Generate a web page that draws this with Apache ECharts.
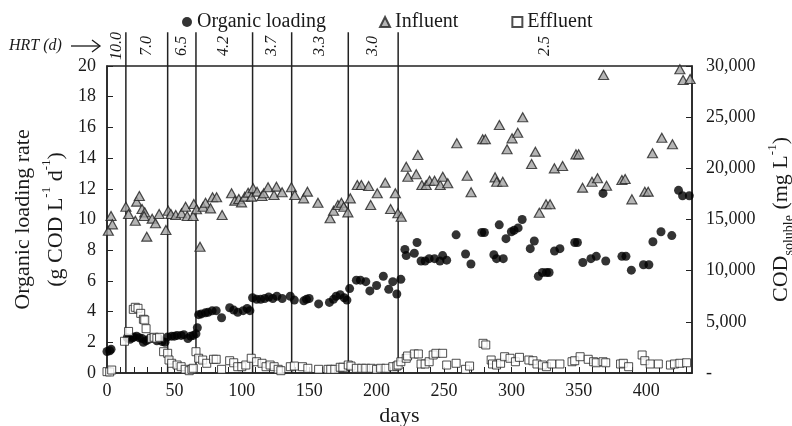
<!DOCTYPE html>
<html>
<head>
<meta charset="utf-8">
<title>Organic loading rate and soluble COD</title>
<script src="https://cdn.jsdelivr.net/npm/echarts@6/dist/echarts.min.js"></script>
<style>
  html, body { margin: 0; padding: 0; background: #fff; }
  #chart { width: 792px; height: 426px; }
</style>
</head>
<body>
<div id="chart"></div>
<script>
// axis ticks
const dayTicks = [0, 50, 100, 150, 200, 250, 300, 350, 400]
const dayMax = 434
const olrTicks = [0, 2, 4, 6, 8, 10, 12, 14, 16, 18, 20]
const codTicks = [0, 5000, 10000, 15000, 20000, 25000, 30000]

// HRT periods: boundaries in days and hrt (d) of each period
const hrtBounds = [0, 14, 45, 66, 108, 137, 179, 216, dayMax]
const hrtLabels = ['10.0', '7.0', '6.5', '4.2', '3.7', '3.3', '3.0', '2.5']

// organic loading rate [day, g COD L-1 d-1]
const organicLoading = [
  [0, 1.4], [2, 1.45], [3, 1.55],
  [15, 2.3], [17, 2.2], [19, 2.3], [20, 2.35], [22, 2.4], [24, 2.3], [26, 2.25], [27, 2.0],
  [29, 2.1], [31, 2.2], [33, 2.3], [35, 2.25], [37, 2.1], [39, 2.2], [41, 2.05], [43, 2.0],
  [45, 2.35], [48, 2.4], [50, 2.4], [52, 2.45], [55, 2.45], [57, 2.5], [60, 2.25], [62, 2.4],
  [64, 2.45], [66, 2.55],
  [67, 2.95], [68, 3.8], [70, 3.85], [73, 3.92], [75, 3.95], [78, 4.05], [81, 4.06], [85, 3.6],
  [91, 4.25], [94, 4.1], [97, 3.95], [101, 4.06], [104, 4.2], [106, 4.06],
  [108, 4.9], [111, 4.8], [114, 4.8], [117, 4.85], [120, 4.95], [123, 4.85], [126, 5.0], [130, 4.85],
  [136, 5.0], [139, 4.75], [146, 4.7], [148, 4.8], [150, 4.85], [157, 4.5], [165, 4.6], [168, 4.8],
  [170, 5.0], [173, 5.1], [176, 4.9], [178, 4.75],
  [180, 5.5], [185, 6.05], [188, 6.05], [192, 5.95], [195, 5.35], [200, 5.7], [205, 6.3], [209, 5.45],
  [212, 5.95], [215, 5.15],
  [218, 6.1], [221, 8.05], [222, 7.65], [228, 7.8], [230, 8.5], [233, 7.3], [236, 7.3], [239, 7.45],
  [243, 7.45], [247, 7.3], [249, 7.65], [252, 7.35], [259, 9.0], [266, 7.75], [270, 7.1], [278, 9.15],
  [280, 9.15], [287, 7.7], [289, 7.45], [291, 9.65], [294, 7.45], [296, 8.75], [300, 9.2], [302, 9.3],
  [305, 9.45], [308, 10.0], [314, 8.1], [317, 8.6], [320, 6.3], [323, 6.55], [326, 6.55], [328, 6.55],
  [332, 7.95], [336, 8.1], [347, 8.5], [349, 8.5], [353, 7.2], [359, 7.45], [363, 7.6], [368, 11.7],
  [370, 7.3], [382, 7.6], [385, 7.6], [389, 6.7], [398, 7.05], [402, 7.05], [405, 8.55], [411, 9.2],
  [419, 8.95], [424, 11.9], [427, 11.55], [432, 11.55]
]

// influent soluble COD [day, mg L-1]
const influent = [
  [1, 13900], [3, 15340], [4, 14530],
  [14, 16250], [16, 15540], [21, 14880], [22, 16740], [24, 17300], [26, 16030], [28, 15700],
  [27.5, 15340], [29.5, 13320], [33.5, 15080], [36, 14630], [38.7, 15540], [43.7, 13970],
  [45.4, 15860], [47.4, 15540], [51, 15440], [55.3, 15610], [58.3, 16250], [59.5, 15340],
  [63.9, 15340], [64.4, 16510], [66.4, 16000], [69, 12340], [71.3, 16250], [73.1, 16640],
  [76.8, 16090], [78.3, 17170], [81.3, 17170], [85.4, 15440], [92.4, 17560], [94.8, 16840],
  [97.8, 17000], [99.8, 16680], [102.2, 17230], [104.7, 17620], [107.2, 17230], [108.4, 18050],
  [111.3, 17720], [115, 17300], [116.3, 17560], [119.5, 18150], [123.9, 17390], [125.7, 18210],
  [129.9, 17660], [136.8, 18150], [139.3, 17390], [145.9, 17070], [148.7, 17720], [156.5, 16640],
  [165.5, 15120], [168.1, 15860], [171.3, 16420], [173.9, 16640], [175.6, 16250], [178.7, 15700],
  [180.5, 17070], [185.7, 18370], [188.7, 18370], [194.1, 18270], [195.6, 16420], [200.5, 17560],
  [206.4, 18600], [210.4, 16030], [213.9, 17560], [215.8, 15610], [218.3, 15270], [222, 20160],
  [223.2, 19180], [229.4, 19420], [230.6, 21300], [233.6, 18370], [236.8, 18370], [239.3, 18790],
  [243, 18790], [247.2, 18370], [249.1, 19180], [252.8, 18540], [259.5, 22450], [267.2, 19280],
  [270.1, 17660], [278.7, 22840], [280.7, 22840], [287.9, 19120], [289.1, 18690], [293.6, 18690],
  [291.1, 24230], [296.8, 21860], [300.5, 22930], [304.7, 23480], [308.4, 24990], [315, 20420],
  [317.8, 21630], [320.7, 15660], [325.7, 16490], [328.7, 16490], [331.9, 20000], [338, 20230],
  [347.9, 21370], [349.9, 21370], [352.8, 18110], [359.8, 18690], [363.9, 19030], [368.4, 29120],
  [370.6, 18300], [382, 18860], [384.4, 18960], [389.4, 16970], [399, 17720], [401.5, 17720],
  [404.7, 21470], [411.6, 22990], [419.5, 22350], [425, 29680], [427.4, 28630], [432.6, 28730]
]

// effluent soluble COD [day, mg L-1]
const effluent = [
  [0, 130], [2, 100], [3.5, 290], [13, 3100], [16, 4060], [19.5, 6220], [21, 6420], [23, 6320],
  [25, 5830], [27, 5250], [28, 5180], [29, 4330], [33, 3390], [35, 3490], [37, 3390], [39, 3490],
  [42, 2080], [45, 1925], [46, 1270], [48, 950], [52, 780], [55, 615], [58, 360], [61, 225],
  [63, 360], [64, 460], [66, 2080], [68, 1440], [71, 1270], [74, 950], [79, 1340], [81, 1340],
  [85, 360], [91, 1200], [94, 1000], [97, 615], [100, 615], [103, 780], [107, 1440], [111, 1100],
  [115, 950], [118, 615], [121, 780], [124, 615], [127, 360], [129, 225], [136, 615], [139, 680],
  [145, 615], [149, 460], [157, 360], [164, 360], [166, 360], [169, 360], [173, 560], [175, 560],
  [179, 780], [181, 680], [185, 460], [189, 460], [192, 460], [196, 460], [200, 360], [203, 460],
  [207, 460], [212, 615], [215, 680], [216, 780], [218, 1100], [222, 1440], [223, 1660], [228, 1860],
  [231, 1860], [233, 880], [236, 880], [239, 1100], [242, 1760], [244, 1925], [249, 1925], [252, 780],
  [259, 950], [266, 360], [269, 680], [279, 2900], [281, 2740], [285, 1270], [286, 880], [289, 780],
  [292, 950], [295, 1590], [299, 1440], [303, 1100], [306, 1530], [313, 1270], [316, 1200], [319, 880],
  [323, 780], [326, 615], [330, 880], [336, 880], [345, 1100], [347, 1200], [351, 1590], [357, 1340],
  [361, 1100], [363, 1000], [368, 1100], [370, 1000], [381, 880], [383, 950], [387, 615], [397, 1760],
  [399, 1200], [403, 880], [409, 880], [418, 780], [421, 880], [425, 950], [430, 1000]
]

const FONT = 'Liberation Serif'
const INK = '#1a1a1a'
const LINE_TOP = 22.2   // period lines run a bit above the plot (left-axis units)
const LABEL_Y = 21.3

// one entry per period boundary / per period label
const hrtLineData = hrtBounds.slice(1, -1).map(b => [b, 0])
const hrtLabelData = hrtLabels.map((lab, i) => [(hrtBounds[i] + hrtBounds[i + 1]) / 2, LABEL_Y])

const chart = echarts.init(document.getElementById('chart'), null, { renderer: 'canvas' })

const option = {
  animation: false,
  textStyle: { fontFamily: FONT, color: INK },
  legend: {
    top: 7,
    left: 177,
    itemGap: 53,
    itemWidth: 10,
    itemHeight: 10,
    textStyle: { fontFamily: FONT, fontSize: 20, color: INK },
    data: [
      { name: 'Organic loading', icon: 'circle' },
      { name: 'Influent', icon: 'triangle' },
      { name: 'Effluent', icon: 'rect' }
    ]
  },
  grid: {
    left: 107,
    right: 100,
    top: 66,
    bottom: 53,
    outerBoundsMode: 'none',
    containLabel: false,
    show: true,
    borderColor: '#222',
    borderWidth: 1.5
  },
  graphic: [
    {
      type: 'text',
      left: 9,
      top: 38,
      style: { text: 'HRT (d)', font: 'italic 16px "Liberation Serif"', fill: INK }
    },
    {
      type: 'line',
      shape: { x1: 71, y1: 46, x2: 100, y2: 46 },
      style: { stroke: INK, lineWidth: 1.3 }
    },
    {
      type: 'polyline',
      shape: { points: [[92, 40], [100, 46], [92, 52]] },
      style: { stroke: INK, lineWidth: 1.3, fill: null }
    }
  ],
  xAxis: {
    type: 'value',
    min: dayTicks[0],
    max: dayMax,
    interval: 10,
    name: 'days',
    nameLocation: 'middle',
    nameGap: 26,
    nameTextStyle: { fontFamily: FONT, fontSize: 22, color: INK },
    axisLine: { show: true, lineStyle: { color: '#222', width: 1.5 } },
    axisTick: { show: true, inside: true, length: 6, lineStyle: { color: '#222', width: 1 } },
    axisLabel: {
      margin: 9,
      fontFamily: FONT,
      fontSize: 18,
      color: INK,
      showMaxLabel: false,
      formatter: v => (dayTicks.includes(v) ? String(v) : '')
    },
    splitLine: { show: false }
  },
  yAxis: [
    {
      type: 'value',
      min: olrTicks[0],
      max: olrTicks[olrTicks.length - 1],
      interval: olrTicks[1] - olrTicks[0],
      name: '{a|Organic loading rate}\n{a|(g COD L}{s|-1}{a| d}{s|-1}{a|)}',
      nameLocation: 'middle',
      nameRotate: 90,
      nameGap: 33,
      nameTextStyle: {
        color: INK,
        rich: {
          a: { fontFamily: FONT, fontSize: 22, lineHeight: 33, color: INK },
          s: { fontFamily: FONT, fontSize: 13, lineHeight: 33, verticalAlign: 'top', color: INK }
        }
      },
      axisLine: { show: true, lineStyle: { color: '#222', width: 1.5 } },
      axisTick: { show: true, inside: true, length: 6, lineStyle: { color: '#222', width: 1 } },
      axisLabel: { margin: 11, fontFamily: FONT, fontSize: 18, color: INK },
      splitLine: { show: false }
    },
    {
      type: 'value',
      min: codTicks[0],
      max: codTicks[codTicks.length - 1],
      interval: codTicks[1] - codTicks[0],
      position: 'right',
      name: '{a|COD}{b|soluble}{a| (mg L}{s|-1}{a|)}',
      nameLocation: 'middle',
      nameRotate: 90,
      nameGap: 67,
      nameTextStyle: {
        color: INK,
        rich: {
          a: { fontFamily: FONT, fontSize: 22, lineHeight: 30, color: INK },
          b: { fontFamily: FONT, fontSize: 14, lineHeight: 30, verticalAlign: 'bottom', color: INK },
          s: { fontFamily: FONT, fontSize: 13, lineHeight: 30, verticalAlign: 'top', color: INK }
        }
      },
      axisLine: { show: true, lineStyle: { color: '#222', width: 1.5 } },
      axisTick: { show: true, inside: true, length: 6, lineStyle: { color: '#222', width: 1 } },
      axisLabel: {
        margin: 14,
        fontFamily: FONT,
        fontSize: 18,
        color: INK,
        formatter: v => (v === 0 ? '-' : v.toLocaleString('en-US'))
      },
      splitLine: { show: false }
    }
  ],
  series: [
    {
      // vertical lines between HRT periods
      name: 'HRT lines',
      type: 'custom',
      yAxisIndex: 0,
      clip: false,
      silent: true,
      data: hrtLineData,
      renderItem: (params, api) => {
        const b = api.value(0)
        const p0 = api.coord([b, 0])
        const p1 = api.coord([b, LINE_TOP])
        return {
          type: 'line',
          shape: { x1: p0[0], y1: p0[1], x2: p1[0], y2: p1[1] },
          style: { stroke: '#222', lineWidth: 1.5 }
        }
      }
    },
    {
      // HRT value written in the middle of each period
      name: 'HRT labels',
      type: 'custom',
      yAxisIndex: 0,
      clip: false,
      silent: true,
      data: hrtLabelData,
      renderItem: (params, api) => {
        const p = api.coord([api.value(0), api.value(1)])
        return {
          type: 'text',
          x: p[0],
          y: p[1],
          rotation: Math.PI / 2,
          style: {
            text: hrtLabels[params.dataIndex],
            font: 'italic 16px "Liberation Serif"',
            fill: INK,
            align: 'center',
            verticalAlign: 'middle'
          }
        }
      }
    },
    {
      name: 'Influent',
      type: 'scatter',
      yAxisIndex: 1,
      symbol: 'triangle',
      symbolSize: [10, 9],
      itemStyle: { color: '#a3a3a3', borderColor: '#222', borderWidth: 1.2 },
      data: influent
    },
    {
      name: 'Organic loading',
      type: 'scatter',
      yAxisIndex: 0,
      symbol: 'circle',
      symbolSize: 9,
      itemStyle: { color: '#000' },
      data: organicLoading
    },
    {
      name: 'Effluent',
      type: 'scatter',
      yAxisIndex: 1,
      symbol: 'rect',
      symbolSize: 8,
      itemStyle: { color: '#fff', borderColor: '#222', borderWidth: 1 },
      data: effluent
    }
  ]
}

chart.setOption(option)
window.addEventListener('resize', () => chart.resize())
</script>
</body>
</html>
